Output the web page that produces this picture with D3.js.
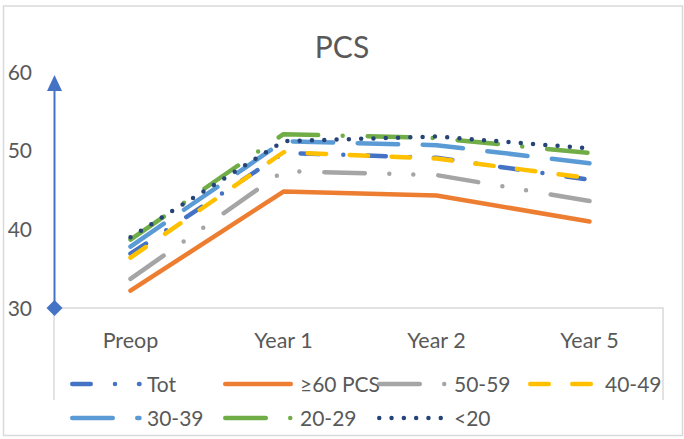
<!DOCTYPE html>
<html>
<head>
<meta charset="utf-8">
<script src="https://cdn.jsdelivr.net/npm/d3@7"></script>
<style>
  html, body { margin: 0; padding: 0; background: #fff; }
  svg { display: block; }
  text { font-family: Lato, "Open Sans", sans-serif; fill: #595959; }
</style>
</head>
<body>
<script>
// ---- Data ----
const categories = ["Preop", "Year 1", "Year 2", "Year 5"];
const seriesNames = ["Tot", "≥60 PCS", "50-59", "40-49", "30-39", "20-29", "<20"];
const totValues  = [36.9, 49.7, 49.1, 46.3];
const ge60Values = [32.2, 44.8, 44.3, 41.0];
const v5059      = [33.7, 47.4, 46.9, 43.6];
const v4049      = [36.4, 49.8, 49.0, 46.5];
const v3039      = [37.8, 51.2, 50.7, 48.4];
const v2029      = [38.7, 52.1, 51.6, 49.7];
const vLt20      = [39.0, 51.2, 51.8, 50.3];
const yTicks = [30, 40, 50, 60];
const titleText = "PCS";

// ---- Styles ----
const styles = [
  { color: "#4472C4", dash: "18.5 24.25 0 24" },
  { color: "#ED7D31", dash: null },
  { color: "#A5A5A5", dash: "40.5 24.5 0 24 0 25" },
  { color: "#FFC000", dash: "18.5 23.5" },
  { color: "#5B9BD5", dash: "40.5 24.5" },
  { color: "#70AD47", dash: "40.5 24.5 0 25" },
  { color: "#264478", dash: "0 12.3" }
];
const allValues = [totValues, ge60Values, v5059, v4049, v3039, v2029, vLt20];
const series = seriesNames.map((n, i) => ({ name: n, values: allValues[i], style: styles[i] }));

const W = 684, H = 439;
const svg = d3.select("body").append("svg").attr("width", W).attr("height", H);

// outer border
svg.append("rect").attr("x", 3.5).attr("y", 6).attr("width", 679).attr("height", 429.5)
  .attr("fill", "none").attr("stroke", "#D9D9D9").attr("stroke-width", 1.5);

const x = d3.scalePoint().domain(categories).range([54, 666]).padding(0.5);
const y = d3.scaleLinear().domain([30, 60]).range([308, 72]);

// title
svg.append("text").attr("x", 342).attr("y", 58).attr("text-anchor", "middle")
  .style("font-size", "30px").text(titleText);

// category frame (gridline at bottom + side lines)
svg.append("path").attr("d", "M54,400 V308 H663 V400")
  .attr("fill", "none").attr("stroke", "#D9D9D9").attr("stroke-width", 1.5);

// y tick labels
svg.append("g").selectAll("text").data(yTicks).join("text")
  .attr("x", 32).attr("y", d => y(d)).attr("dy", "0.36em").attr("text-anchor", "end")
  .style("font-size", "21px").text(d => d);

// x category labels
svg.append("g").selectAll("text").data(categories).join("text")
  .attr("x", d => x(d)).attr("y", 340).attr("dy", "0.36em").attr("text-anchor", "middle")
  .style("font-size", "21.5px").text(d => d);

// blue y axis arrow
const axisColor = "#4472C4";
svg.append("line").attr("x1", 54.5).attr("x2", 54.5).attr("y1", y(30)).attr("y2", 88)
  .attr("stroke", axisColor).attr("stroke-width", 2);
svg.append("path").attr("d", `M54.5,75 L62,91 L47,91 Z`).attr("fill", axisColor);
svg.append("path").attr("d", `M54.5,300 L62.5,308 L54.5,316 L46.5,308 Z`).attr("fill", axisColor);

// lines
const line = d3.line().x((d, i) => x(categories[i])).y(d => y(d));
svg.append("g").selectAll("path").data(series).join("path")
  .attr("d", d => line(d.values))
  .attr("fill", "none")
  .attr("stroke", d => d.style.color)
  .attr("stroke-width", 4.5)
  .attr("stroke-linecap", "round")
  .attr("stroke-linejoin", "round")
  .attr("stroke-dasharray", d => d.style.dash);

// legend
const legendPos = [[70, 384], [223, 384], [377, 384], [528, 384], [70, 418], [223, 418], [377, 418]];
const lg = svg.append("g").selectAll("g").data(series).join("g")
  .attr("transform", (d, i) => `translate(${legendPos[i][0]},${legendPos[i][1]})`);
lg.append("line").attr("x1", 2.25).attr("x2", d => d.style.dash ? 69.5 : 67.75).attr("y1", 0).attr("y2", 0)
  .attr("stroke", d => d.style.color).attr("stroke-width", 4.5)
  .attr("stroke-linecap", "round")
  .attr("stroke-dasharray", d => d.style.dash);
lg.append("text").attr("x", 77).attr("y", 0).attr("dy", "0.36em")
  .style("font-size", "21px").text(d => d.name);
</script>
</body>
</html>
